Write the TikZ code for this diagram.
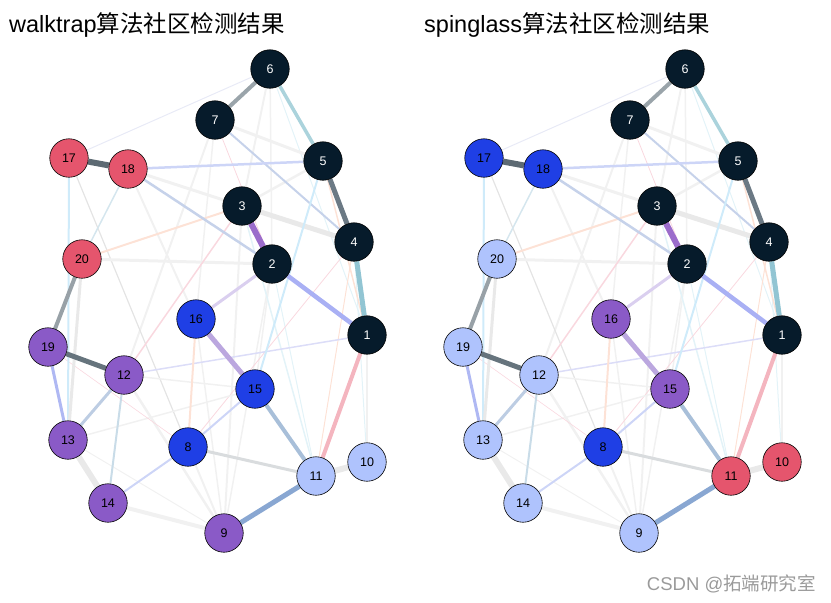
\documentclass[tikz,border=0pt]{standalone}
\usepackage{fontspec}
\setmainfont{Liberation Sans}
\newfontfamily\cjk{Noto Sans CJK SC}
\definecolor{cdark}{HTML}{061B2B}
\definecolor{cred}{HTML}{E5556D}
\definecolor{cblue}{HTML}{1F3FE5}
\definecolor{cpurple}{HTML}{8A5AC7}
\definecolor{clight}{HTML}{AFC3FD}
\definecolor{ga}{HTML}{9AA4AA}
\definecolor{ta}{HTML}{ABD3DC}
\definecolor{gb}{HTML}{6B7984}
\definecolor{tb}{HTML}{92C5D3}
\definecolor{pa}{HTML}{9B6CCB}
\definecolor{lg}{HTML}{E9E9E9}
\definecolor{gc}{HTML}{5D6A73}
\definecolor{lva}{HTML}{CDD5F7}
\definecolor{bga}{HTML}{C6D2EA}
\definecolor{vl}{HTML}{F1F1F1}
\definecolor{pe}{HTML}{FDE2D6}
\definecolor{pw}{HTML}{A9B0F4}
\definecolor{lvb}{HTML}{DACFEF}
\definecolor{cy}{HTML}{CFEBFA}
\definecolor{cyb}{HTML}{D5E6EE}
\definecolor{gd}{HTML}{98A1A7}
\definecolor{ge}{HTML}{66747D}
\definecolor{pwb}{HTML}{AFB8F3}
\definecolor{bgb}{HTML}{BDCDE3}
\definecolor{bgc}{HTML}{C9DCE8}
\definecolor{lp}{HTML}{BBA7DF}
\definecolor{bgd}{HTML}{A8BFD9}
\definecolor{pk}{HTML}{F4B5BF}
\definecolor{sb}{HTML}{89A7D2}
\definecolor{gg}{HTML}{D9DCDE}
\definecolor{lvc}{HTML}{DCDDF8}
\definecolor{pkb}{HTML}{F9D8DF}
\definecolor{lvd}{HTML}{E8EAF6}
\definecolor{fg}{HTML}{E4E4E4}
\definecolor{fc}{HTML}{E3F3F8}
\definecolor{wm}{HTML}{9A9A9A}
\pgfdeclarelayer{bg}
\pgfsetlayers{bg,main}
\tikzset{
  vtx/.style={circle,draw=black,line width=0.6pt,minimum size=38.5pt,inner sep=0pt,font=\fontsize{12.5}{12.5}\selectfont},
  kdark/.style={vtx,fill=cdark,text=white},
  kred/.style={vtx,fill=cred,text=black},
  kblue/.style={vtx,fill=cblue,text=black},
  kpurple/.style={vtx,fill=cpurple,text=black},
  klight/.style={vtx,fill=clight,text=black},
  ttl/.style={anchor=west,inner sep=0pt,font=\fontsize{23.5}{23.5}\selectfont},
  % walktrap communities
  Lc1/.style=kdark,Lc2/.style=kdark,Lc3/.style=kdark,Lc4/.style=kdark,Lc5/.style=kdark,Lc6/.style=kdark,Lc7/.style=kdark,
  Lc17/.style=kred,Lc18/.style=kred,Lc20/.style=kred,
  Lc19/.style=kpurple,Lc12/.style=kpurple,Lc13/.style=kpurple,Lc14/.style=kpurple,Lc9/.style=kpurple,
  Lc16/.style=kblue,Lc15/.style=kblue,Lc8/.style=kblue,
  Lc11/.style=klight,Lc10/.style=klight,
  % spinglass communities
  Rc1/.style=kdark,Rc2/.style=kdark,Rc3/.style=kdark,Rc4/.style=kdark,Rc5/.style=kdark,Rc6/.style=kdark,Rc7/.style=kdark,
  Rc17/.style=kblue,Rc18/.style=kblue,Rc8/.style=kblue,
  Rc20/.style=klight,Rc19/.style=klight,Rc12/.style=klight,Rc13/.style=klight,Rc14/.style=klight,Rc9/.style=klight,
  Rc16/.style=kpurple,Rc15/.style=kpurple,
  Rc11/.style=kred,Rc10/.style=kred
}
\newcommand\netpanel[2]{%
\begin{scope}[xshift=#2]
\node[#1c6] (#1-6) at (270,69) {6};
\node[#1c7] (#1-7) at (215,120) {7};
\node[#1c17] (#1-17) at (69,158) {17};
\node[#1c18] (#1-18) at (128,169) {18};
\node[#1c5] (#1-5) at (323,161) {5};
\node[#1c3] (#1-3) at (242,206) {3};
\node[#1c4] (#1-4) at (354,242) {4};
\node[#1c20] (#1-20) at (82,259) {20};
\node[#1c2] (#1-2) at (272,264) {2};
\node[#1c16] (#1-16) at (196,319) {16};
\node[#1c1] (#1-1) at (367,335) {1};
\node[#1c19] (#1-19) at (48,347) {19};
\node[#1c12] (#1-12) at (124,375) {12};
\node[#1c15] (#1-15) at (255,389) {15};
\node[#1c13] (#1-13) at (68,440) {13};
\node[#1c8] (#1-8) at (188,447) {8};
\node[#1c11] (#1-11) at (316,476) {11};
\node[#1c10] (#1-10) at (367,462) {10};
\node[#1c14] (#1-14) at (108,503) {14};
\node[#1c9] (#1-9) at (224,533) {9};
\begin{pgfonlayer}{bg}
% faint edges
\draw[vl,line width=2pt] (#1-7) -- (#1-12);
\draw[vl,line width=1.5pt] (#1-7) -- (#1-16);
\draw[pkb,line width=0.8pt] (#1-7) -- (#1-2);
\draw[vl,line width=1.5pt] (#1-6) -- (#1-2);
\draw[fc,line width=1pt] (#1-6) -- (#1-1);
\draw[vl,line width=2pt] (#1-18) -- (#1-16);
\draw[fg,line width=1.2pt] (#1-17) -- (#1-8);
\draw[vl,line width=2.5pt] (#1-12) -- (#1-9);
\draw[vl,line width=1pt] (#1-13) -- (#1-9);
\draw[vl,line width=1.5pt] (#1-16) -- (#1-9);
\draw[vl,line width=1.5pt] (#1-2) -- (#1-9);
\draw[vl,line width=2pt] (#1-3) -- (#1-9);
\draw[vl,line width=1.5pt] (#1-2) -- (#1-15);
\draw[fc,line width=1pt] (#1-2) -- (#1-11);
\draw[fc,line width=1.5pt] (#1-3) -- (#1-11);
\draw[fc,line width=1pt] (#1-4) -- (#1-10);
\draw[pe,line width=1pt] (#1-4) -- (#1-11);
\draw[pkb,line width=0.8pt] (#1-4) -- (#1-8);
\draw[vl,line width=1.5pt] (#1-13) -- (#1-15);
\draw[vl,line width=1.5pt] (#1-12) -- (#1-15);
\draw[pkb,line width=0.6pt] (#1-19) -- (#1-8);
\draw[vl,line width=2pt] (#1-8) -- (#1-9);
\draw[vl,line width=1.5pt] (#1-10) -- (#1-1);
\draw[pkb,line width=0.6pt] (#1-8) -- (#1-11);
\draw[lvd,line width=1pt] (#1-6) -- (#1-17);
\draw[pe,line width=1.5pt] (#1-5) -- (#1-1);
% lighter weighted edges
\draw[vl,line width=3pt] (#1-7) -- (#1-5);
\draw[vl,line width=2.5pt] (#1-5) -- (#1-3);
\draw[vl,line width=2pt] (#1-6) -- (#1-3);
\draw[vl,line width=3pt] (#1-18) -- (#1-3);
\draw[vl,line width=3pt] (#1-20) -- (#1-2);
\draw[pe,line width=2pt] (#1-3) -- (#1-20);
\draw[cyb,line width=1.5pt] (#1-18) -- (#1-20);
\draw[cy,line width=2pt] (#1-17) -- (#1-13);
\draw[lg,line width=3pt] (#1-20) -- (#1-13);
\draw[pkb,line width=1.5pt] (#1-3) -- (#1-12);
\draw[lvc,line width=1.5pt] (#1-12) -- (#1-1);
\draw[pe,line width=2pt] (#1-16) -- (#1-8);
\draw[vl,line width=4pt] (#1-14) -- (#1-9);
\draw[lg,line width=6pt] (#1-13) -- (#1-14);
\draw[lg,line width=6pt] (#1-11) -- (#1-10);
\draw[gg,line width=3pt] (#1-8) -- (#1-11);
\draw[lg,line width=5pt] (#1-3) -- (#1-4);
% visible edges
\draw[bga,line width=2pt] (#1-7) -- (#1-4);
\draw[bga,line width=2.5pt] (#1-18) -- (#1-2);
\draw[lva,line width=2.5pt] (#1-18) -- (#1-5);
\draw[cy,line width=2pt] (#1-5) -- (#1-15);
\draw[lvb,line width=3pt] (#1-2) -- (#1-16);
\draw[lva,line width=2pt] (#1-14) -- (#1-8);
\draw[lva,line width=2pt] (#1-8) -- (#1-15);
\draw[bgc,line width=2pt] (#1-12) -- (#1-14);
\draw[bgb,line width=3pt] (#1-13) -- (#1-12);
\draw[pwb,line width=3pt] (#1-19) -- (#1-13);
\draw[pw,line width=4.5pt] (#1-2) -- (#1-1);
\draw[ta,line width=3.5pt] (#1-6) -- (#1-5);
\draw[ga,line width=4pt] (#1-6) -- (#1-7);
\draw[gb,line width=5pt] (#1-5) -- (#1-4);
\draw[tb,line width=5pt] (#1-4) -- (#1-1);
\draw[pa,line width=6pt] (#1-3) -- (#1-2);
\draw[gc,line width=6pt] (#1-17) -- (#1-18);
\draw[gd,line width=4pt] (#1-20) -- (#1-19);
\draw[ge,line width=5pt] (#1-19) -- (#1-12);
\draw[lp,line width=5pt] (#1-16) -- (#1-15);
\draw[bgd,line width=4pt] (#1-15) -- (#1-11);
\draw[pk,line width=4pt] (#1-11) -- (#1-1);
\draw[sb,line width=5pt] (#1-11) -- (#1-9);
\end{pgfonlayer}
\end{scope}}
\begin{document}
\begin{tikzpicture}[x=1pt,y=-1pt]
\useasboundingbox (0,0) rectangle (831,603);
\node[ttl] (t1) at (9,25) {walktrap{\cjk 算法社区检测结果}};
\node[ttl] (t2) at (424,25) {spinglass{\cjk 算法社区检测结果}};
\netpanel{L}{0pt}
\netpanel{R}{415pt}
\node[anchor=east,inner sep=0pt,text=wm,font=\fontsize{18.5}{18.5}\selectfont] (wmk) at (816,584) {CSDN @{\cjk 拓端研究室}};
\end{tikzpicture}
\end{document}
